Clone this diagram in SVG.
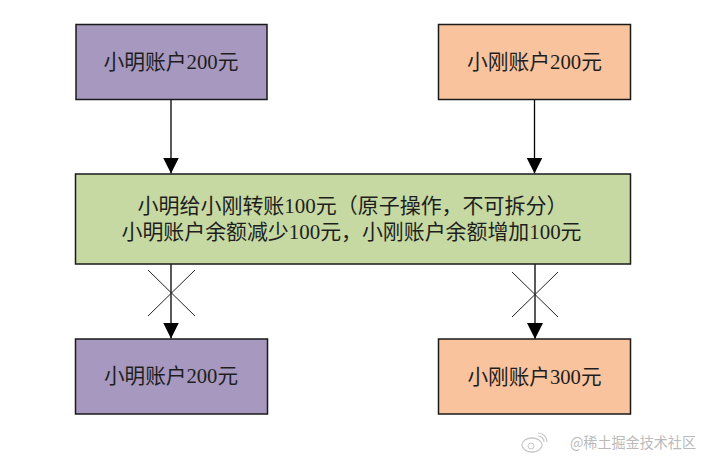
<svg xmlns="http://www.w3.org/2000/svg" width="711" height="463" viewBox="0 0 711 463">
<style>
  .box { stroke: #1a1a1a; stroke-width: 1.5; }
  .purple { fill: #a698bf; }
  .orange { fill: #f8c39d; }
  .green { fill: #c6d9a2; }
  .lbl { font-family: "Liberation Serif", "Noto Sans CJK SC", serif; font-size: 21px; fill: #1e1e1e; }
  .conn { stroke: #000; stroke-width: 1.3; fill: none; }
  .cross { stroke: #222; stroke-width: 1; fill: none; }
  .wm { font-family: "Noto Sans CJK SC", "Liberation Sans", sans-serif; font-size: 15px; fill: #bababa; }
</style>
<defs>
  <marker id="arr" viewBox="0 0 16 17" refX="16" refY="8" markerWidth="16" markerHeight="17" markerUnits="userSpaceOnUse" orient="auto">
    <path d="M0,0 L16,8 L0,16 Z" fill="#000"/>
  </marker>
</defs>
<rect width="711" height="463" fill="#ffffff"/>

<g id="connectors">
  <line class="conn" x1="171" y1="99.5" x2="171" y2="173.5" marker-end="url(#arr)"/>
  <line class="conn" x1="534.5" y1="99.5" x2="534.5" y2="173.5" marker-end="url(#arr)"/>
  <line class="conn" x1="171" y1="264" x2="171" y2="338.5" marker-end="url(#arr)"/>
  <line class="conn" x1="535" y1="264" x2="535" y2="339" marker-end="url(#arr)"/>
  <path class="cross" d="M148,270 L195,316 M195,270 L148,316"/>
  <path class="cross" d="M512,272 L558,317 M558,272 L512,317"/>
</g>

<g id="node-xm-before">
  <rect class="box purple" x="76" y="24.5" width="191" height="75"/>
  <text class="lbl" x="103.5" y="69" textLength="135" lengthAdjust="spacingAndGlyphs">小明账户200元</text>
</g>
<g id="node-xg-before">
  <rect class="box orange" x="438.5" y="24.5" width="192" height="75"/>
  <text class="lbl" x="467" y="69" textLength="135" lengthAdjust="spacingAndGlyphs">小刚账户200元</text>
</g>
<g id="node-transfer">
  <rect class="box green" x="75.5" y="174" width="555" height="90"/>
  <text class="lbl" x="137.5" y="213" textLength="430" lengthAdjust="spacing">小明给小刚转账100元（原子操作，不可拆分）</text>
  <text class="lbl" x="121.5" y="238.5" textLength="460" lengthAdjust="spacingAndGlyphs">小明账户余额减少100元，小刚账户余额增加100元</text>
</g>
<g id="node-xm-after">
  <rect class="box purple" x="75.5" y="339" width="192" height="75"/>
  <text class="lbl" x="104" y="383" textLength="134" lengthAdjust="spacingAndGlyphs">小明账户200元</text>
</g>
<g id="node-xg-after">
  <rect class="box orange" x="438.5" y="339" width="192" height="75"/>
  <text class="lbl" x="467.5" y="383.5" textLength="134" lengthAdjust="spacingAndGlyphs">小刚账户300元</text>
</g>

<g id="watermark">
  <ellipse cx="532" cy="445" rx="10" ry="7" fill="none" stroke="#c8c8c8" stroke-width="1.3"/>
  <circle cx="531" cy="446" r="3" fill="none" stroke="#c8c8c8" stroke-width="1"/>
  <path d="M538,436 A6,6 0 0 1 544,442 M538,433 A9,9 0 0 1 547,442" fill="none" stroke="#c8c8c8" stroke-width="1.2"/>
  <text class="wm" x="570" y="448" textLength="126" lengthAdjust="spacingAndGlyphs">@稀土掘金技术社区</text>
</g>
</svg>
